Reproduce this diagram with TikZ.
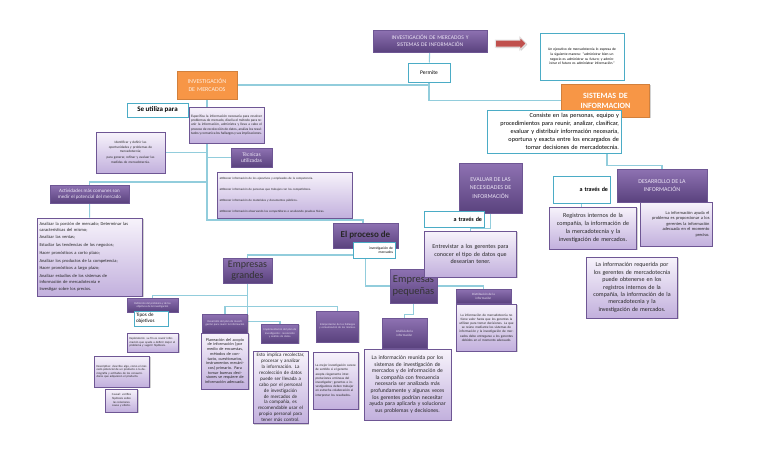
\documentclass[tikz,border=0pt]{standalone}
\usepackage{fontspec}
\setmainfont{Carlito}
\usepackage{tikz}
\usetikzlibrary{shapes.arrows,shadows,backgrounds}
\definecolor{moradoA}{RGB}{142,114,178}
\definecolor{moradoB}{RGB}{90,66,126}
\definecolor{moradoBorde}{RGB}{110,86,148}
\definecolor{lilaA}{RGB}{247,243,251}
\definecolor{lilaB}{RGB}{194,176,221}
\definecolor{lilaTexto}{RGB}{236,228,246}
\definecolor{turquesa}{RGB}{75,172,198}
\definecolor{celeste}{RGB}{146,205,220}
\definecolor{naranja}{RGB}{247,150,70}
\definecolor{rojoFlecha}{RGB}{192,80,77}
\newcommand{\letra}[2]{\fontsize{#1}{#2}\selectfont}

\begin{document}
\begin{tikzpicture}[
  x=1pt, y=-1pt,
  inner sep=2pt,
  font=\letra{5}{6},
  sombra/.style={drop shadow={shadow xshift=1pt, shadow yshift=-1.2pt, opacity=.35}},
  oscuro/.style={draw=moradoBorde, top color=moradoA, bottom color=moradoB,
    sombra, align=center, text=lilaTexto},
  claro/.style={draw=moradoBorde, line width=.8pt, top color=lilaA, bottom color=lilaB,
    sombra, align=center, text=black!85},
  marco/.style={draw=turquesa, line width=1pt, fill=white, text=black},
  naranjo/.style={fill=naranja, draw=naranja!85!black, sombra, align=center, text=white},
  enlace/.style={draw=celeste, line width=1.1pt}
]

\begin{scope}[on background layer]
  \fill[white] (0,0) rectangle (768,466);
\end{scope}
\useasboundingbox (0,0) rectangle (768,466);

% Titulo
\node[oscuro, minimum width=114pt, minimum height=22pt, text width=110pt,
  font=\letra{5.6}{7}] (titulo) at (430,41)
  {INVESTIGACIÓN DE MERCADOS Y\\SISTEMAS DE INFORMACIÓN};
\node[single arrow, fill=rojoFlecha, draw=black!10, line width=1pt, sombra,
  minimum height=31pt, inner sep=3pt, single arrow head extend=3pt] (flecha) at (509,43.5) {};
\node[marco, minimum width=84pt, minimum height=47pt, text width=78pt, align=center,
  font=\letra{3.6}{4.6}] (cita) at (582,56.5)
  {Un ejecutivo de mercadotecnia lo expresa de la siguiente manera: ``administrar bien
   un negocio es administrar su futuro; y administrar el futuro es administrar información.''};
\node[marco, minimum width=42pt, minimum height=19pt, font=\letra{5.5}{6.5}] (permite)
  at (429,72.5) {Permite};

% Investigacion de mercados
\node[naranjo, minimum width=58pt, minimum height=28pt, text width=56pt,
  font=\letra{6}{7.5}, text=white!85!naranja] (invmerc) at (207,85)
  {INVESTIGACIÓN\\DE MERCADOS};
\node[marco, minimum width=61pt, minimum height=14pt, font=\bfseries\letra{7}{8}] (utiliza)
  at (157.5,110) {Se utiliza para};
\node[claro, minimum width=75pt, minimum height=36pt, text width=71pt, align=justify,
  font=\letra{3.5}{4.1}] (especifica) at (226.5,125)
  {Especifica la información necesaria para resolver problemas de mercado, diseña el
   método para reunir la información, administra y lleva a cabo el proceso de recolección
   de datos, analiza los resultados y comunica los hallazgos y sus implicaciones.};
\node[claro, minimum width=69pt, minimum height=41pt, text width=64pt,
  font=\letra{3.4}{4.5}] (identificar) at (130.5,152.5)
  {Identificar y definir las\\oportunidades y problemas de\\mercadotecnia;\\[1.5pt]
   para generar, refinar y evaluar las\\medidas de mercadotecnia.};
\node[oscuro, minimum width=41pt, minimum height=19pt, font=\letra{5.5}{6.5}] (tecnicas)
  at (251.5,157.5) {Técnicas\\utilizadas};
\node[claro, minimum width=135pt, minimum height=46pt, text width=130pt, align=left,
  font=\letra{3.1}{3.7}] (tecnicaslista) at (284.5,195)
  {•Obtener información de los ejecutivos y empleados de la competencia.\\[7.5pt]
   •Obtener información de personas que trabajan con los competidores.\\[7.5pt]
   •Obtener información de materiales y documentos públicos.\\[7.5pt]
   •Obtener información observando los competidores o analizando pruebas físicas.};
\node[oscuro, minimum width=79pt, minimum height=18pt, font=\letra{5}{6}] (actividades)
  at (89.5,194) {Actividades más comunes son\\medir el potencial del mercado};
\node[claro, minimum width=104pt, minimum height=78pt, text width=101pt, align=left,
  font=\letra{4.5}{5.7}] (lista) at (90,257)
  {Analizar la porción de mercado; Determinar las\\características del mismo;\\[2pt]
   Analizar las ventas;\\[2pt]
   Estudiar las tendencias de los negocios;\\[2pt]
   Hacer pronósticos a corto plazo;\\[2pt]
   Analizar los productos de la competencia;\\[2pt]
   Hacer pronósticos a largo plazo;\\[2pt]
   Analizar estudios de los sistemas de\\información de mercadotecnia e\\[2pt]
   Investigar sobre los precios.};

% El proceso de investigacion
\node[oscuro, minimum width=65pt, minimum height=25pt, text=black!85,
  font=\bfseries\letra{9}{10}] (proceso) at (365.5,235.5) {El proceso de};
\node[marco, minimum width=42pt, minimum height=16pt, text width=38pt, align=right,
  font=\letra{3.6}{4.3}] (procesoinv) at (374,250) {investigación de\\mercados};
\node[oscuro, minimum width=49pt, minimum height=25pt, text=black!80,
  font=\letra{10}{11.5}] (grandes) at (247.5,270.5) {Empresas\\grandes};
\node[oscuro, minimum width=47pt, minimum height=34pt, text=black!80,
  font=\letra{10.5}{12}] (pequenas) at (413.5,286) {Empresas\\pequeñas};

% Empresas grandes
\node[oscuro, minimum width=51pt, minimum height=14pt, font=\letra{2.8}{3.4}] (definicion)
  at (152.5,305) {Definición del problema y de los\\objetivos de la investigación};
\node[marco, minimum width=34pt, minimum height=15pt, text width=30pt, align=left,
  font=\letra{5}{6}] (tipos) at (151,318.5) {Tipos de\\objetivos};
\node[claro, minimum width=50pt, minimum height=19pt, text width=47pt, align=left,
  font=\letra{3}{3.6}] (exploratorio) at (153,342.5)
  {Exploratorio: su fin es reunir información que ayude a definir mejor el problema y
   sugerir hipótesis.};
\node[claro, minimum width=54pt, minimum height=31pt, text width=51pt, align=left,
  font=\letra{3}{3.5}] (descriptivo) at (122,371.5)
  {Descriptivo: describe algo, como el mercado potencial de un producto o la demografía
   y actitudes de los consumidores que adquieren el producto.};
\node[claro, minimum width=31pt, minimum height=23pt, text width=28pt,
  font=\letra{3}{3.6}] (causal) at (121.5,400.5)
  {Causal: verifica hipótesis sobre las relaciones causa y efecto.};
\node[oscuro, minimum width=44pt, minimum height=19pt, text width=41pt,
  font=\letra{2.8}{3.4}] (desarrolloplan) at (225,323.5)
  {Desarrollo del plan de investigación para reunir la información};
\node[claro, minimum width=46pt, minimum height=56pt, text width=43pt,
  font=\letra{4.2}{4.7}] (planeacion) at (225,361)
  {Planeación del acopio de información (por medio de encuestas, métodos de contacto,
   cuestionarios, instrumentos mecánicos) primario. Para tomar buenas decisiones se
   requiere de información adecuada.};
\node[oscuro, minimum width=36pt, minimum height=19pt, text width=33pt,
  font=\letra{2.8}{3.4}] (implementacion) at (280,333.5)
  {Implementación del plan de investigación: recolección y análisis de datos.};
\node[claro, minimum width=55pt, minimum height=71pt, text width=51pt,
  font=\letra{5}{5.9}] (implica) at (280.5,387.5)
  {Esto implica recolectar, procesar y analizar la información. La recolección de datos
   puede ser llevada a cabo por el personal de investigación de mercados de la compañía,
   es recomendable usar el propio personal para tener más control.};
\node[oscuro, minimum width=41pt, minimum height=31pt, text width=38pt,
  font=\letra{2.8}{3.4}] (interpretacion) at (337.5,326.5)
  {Interpretación de los hallazgos y comunicación de los mismos.};
\node[claro, minimum width=44pt, minimum height=57pt, text width=41pt, align=left,
  font=\letra{3.3}{4.2}] (mejor) at (336,380.5)
  {La mejor investigación carece de sentido si el gerente acepta ciegamente
   interpretaciones erróneas del investigador; gerentes e investigadores deben trabajar
   en estrecha colaboración al interpretar los resultados.};

% Empresas pequenas
\node[oscuro, minimum width=45pt, minimum height=30pt, font=\letra{3.2}{4}] (analisis)
  at (404.5,333) {Análisis de la\\información};
\node[claro, minimum width=87pt, minimum height=71pt, text width=83pt,
  font=\letra{5.6}{6.6}] (reunida) at (407.5,384.5)
  {La información reunida por los sistemas de investigación de mercados y de información
   de la compañía con frecuencia necesaria ser analizada más profundamente y algunas
   veces los gerentes podrían necesitar ayuda para aplicarla y solucionar sus problemas
   y decisiones.};
\node[oscuro, minimum width=55pt, minimum height=14pt, font=\letra{3.2}{3.8}] (distribucion)
  at (483.5,296) {Distribución de la\\información};
\node[claro, minimum width=59pt, minimum height=47pt, text width=56pt,
  font=\letra{3.4}{4.2}] (distribtexto) at (486.5,327.5)
  {La información de mercadotecnia no tiene valor hasta que los gerentes la utilizan para
   tomar decisiones. La que se reúne mediante los sistemas de información y la
   investigación de mercados debe entregarse a los gerentes debidos en el momento
   adecuado.};

% Sistemas de informacion
\node[naranjo, minimum width=87pt, minimum height=33pt, text width=84pt,
  font=\bfseries\letra{8}{10}] (sistemas) at (605.5,100.5) {SISTEMAS DE\\INFORMACION};
\node[marco, minimum width=134pt, minimum height=43pt, text width=130pt, align=right,
  font=\letra{6.2}{7.9}] (consiste) at (554,131.5)
  {Consiste en las personas, equipo y\\procedimientos para reunir, analizar, clasificar,\\
   evaluar y distribuir información necesaria,\\oportuna y exacta entre los encargados de\\
   tomar decisiones de mercadotecnia.};
\node[oscuro, minimum width=63pt, minimum height=50pt, font=\letra{6}{8.5}] (evaluar)
  at (490.5,188) {EVALUAR DE LAS\\NECESIDADES DE\\INFORMACIÓN};
\node[marco, minimum width=60pt, minimum height=16pt, text width=56pt, align=right,
  font=\bfseries\letra{6}{7}] (travesA) at (454,219) {a través de};
\node[claro, minimum width=91pt, minimum height=46pt, text width=88pt,
  font=\letra{6}{7.2}] (entrevistar) at (470.5,254)
  {Entrevistar a los gerentes para\\conocer el tipo de datos que\\desearían tener.};
\node[oscuro, minimum width=90pt, minimum height=33pt, font=\letra{6}{8.5}] (desarrollo)
  at (662,185.5) {DESARROLLO DE LA\\INFORMACIÓN};
\node[marco, minimum width=57pt, minimum height=27pt, text width=53pt, align=right,
  font=\bfseries\letra{6}{7}] (travesB) at (581.5,189.5) {a través de};
\node[claro, minimum width=86pt, minimum height=42pt, text width=83pt,
  font=\letra{6.1}{7.8}] (registros) at (593,228)
  {Registros internos de la\\compañía, la información de\\la mercadotecnia y la\\
   investigación de mercados.};
\node[claro, minimum width=72pt, minimum height=44pt, text width=67pt, align=right,
  font=\letra{4.4}{5.5}] (ayuda) at (676,224)
  {La información ayuda el\\problema es proporcionar a los\\gerentes la información\\
   adecuada en el momento\\preciso.};
\node[claro, minimum width=90pt, minimum height=61pt, text width=87pt,
  font=\letra{6}{7.4}] (requerida) at (632,287.5)
  {La información requerida por\\los gerentes de mercadotecnia\\puede obtenerse en los\\
   registros internos de la\\compañía, la información de la\\mercadotecnia y la\\
   investigación de mercados.};

% Conectores
\coordinate (codo) at (363,220);
\coordinate (rama) at (207,182);
\begin{scope}[on background layer]
  \draw[enlace] (titulo) -- (permite);
  \draw[enlace] (permite.south) |- (sistemas.west);
  \draw[enlace] (invmerc.east) -| (permite.south);
  \draw[enlace] (invmerc.south) |- (codo) -- (codo |- proceso.north);
  \draw[enlace] (identificar.east) -- (identificar.east -| invmerc.south);
  \draw[enlace] (tecnicas.west) -- (tecnicas.west -| invmerc.south);
  \draw[enlace] (actividades.north) |- (rama);
  \draw[enlace] (actividades) -- (lista);

  \draw[enlace] (grandes.north) |- ([yshift=-5pt]procesoinv.west);
  \draw[enlace] (proceso.south) |- (pequenas.west);
  \draw[enlace] (grandes.south) |- ([yshift=2pt]definicion.north) -- (definicion.north);
  \draw[enlace] (desarrolloplan.north) |- ([yshift=4pt]interpretacion.north)
    -- (interpretacion.north);
  \draw[enlace] (grandes.south) |- ([yshift=2pt]implementacion.north)
    -- (implementacion.north);
  \draw[enlace] (pequenas.south) |- ([yshift=3pt]analisis.north) -- (analisis.north);
  \draw[enlace] (pequenas.east) -| (distribucion.north);

  \draw[enlace] ([xshift=53pt]consiste.south) |- ([yshift=3pt]desarrollo.north)
    -- (desarrollo.north);
  \draw[enlace] (evaluar.south) |- ([yshift=2pt]entrevistar.north) -- (entrevistar.north);
  \draw[enlace] (travesB.south) -- (travesB.south |- registros.north);
\end{scope}

\end{tikzpicture}
\end{document}
